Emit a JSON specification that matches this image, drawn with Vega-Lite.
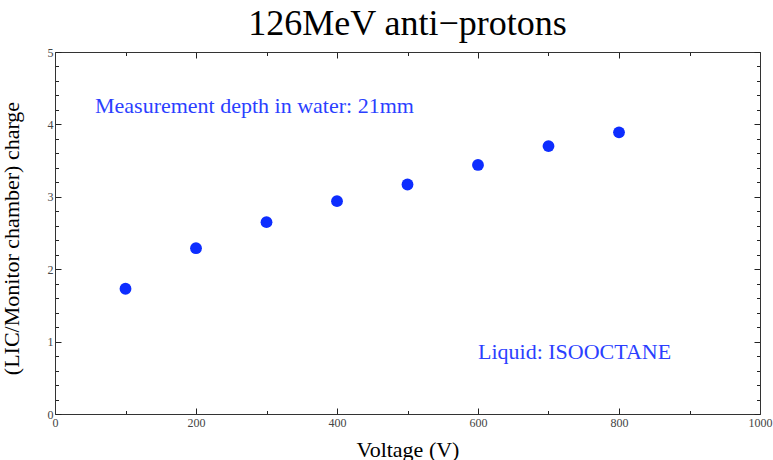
{
  "$schema": "https://vega.github.io/schema/vega-lite/v6.json",
  "width": 705,
  "height": 362,
  "autosize": {"type": "none"},
  "padding": {"left": 55, "top": 52, "right": 13, "bottom": 46},
  "background": "white",
  "title": {
    "text": "126MeV anti−protons",
    "font": "Liberation Serif",
    "fontSize": 36,
    "fontWeight": "normal",
    "color": "#000000",
    "anchor": "middle",
    "baseline": "bottom",
    "offset": 8,
    "dy": 41
  },
  "config": {
    "view": {"stroke": null},
    "axis": {
      "grid": false,
      "domainColor": "#333333",
      "domainWidth": 1,
      "tickColor": "#222222",
      "tickWidth": 1,
      "labelFont": "Liberation Serif",
      "labelFontSize": 12,
      "labelColor": "#444444",
      "labelOverlap": false,
      "labelFlush": false,
      "titleFont": "Liberation Serif",
      "titleFontSize": 22,
      "titleFontWeight": "normal",
      "titleColor": "#000000"
    }
  },
  "layer": [
    {
      "data": {
        "values": [
          {"voltage": 100, "charge": 1.73},
          {"voltage": 200, "charge": 2.29},
          {"voltage": 300, "charge": 2.65},
          {"voltage": 400, "charge": 2.94},
          {"voltage": 500, "charge": 3.17},
          {"voltage": 600, "charge": 3.44},
          {"voltage": 700, "charge": 3.70},
          {"voltage": 800, "charge": 3.89}
        ]
      },
      "mark": {"type": "point", "filled": true, "shape": "circle", "size": 140, "color": "#0d2dff", "opacity": 1},
      "encoding": {
        "x": {
          "field": "voltage",
          "type": "quantitative",
          "scale": {"domain": [0, 1000], "nice": false, "zero": false},
          "axis": {
            "orient": "bottom",
            "title": "Voltage (V)",
            "values": [0, 100, 200, 300, 400, 500, 600, 700, 800, 900, 1000],
            "format": "d",
            "tickSize": {"condition": {"test": "datum.value % 200 === 0", "value": -6}, "value": -3.5},
            "labelExpr": "datum.value % 200 === 0 ? datum.label : ''",
            "labelPadding": 9,
            "titleY": 42,
            "titleBaseline": "alphabetic"
          }
        },
        "y": {
          "field": "charge",
          "type": "quantitative",
          "scale": {"domain": [0, 5], "nice": false, "zero": false},
          "axis": {
            "orient": "left",
            "title": "(LIC/Monitor chamber) charge",
            "values": [0, 0.2, 0.4, 0.6, 0.8, 1, 1.2, 1.4, 1.6, 1.8, 2, 2.2, 2.4, 2.6, 2.8, 3, 3.2, 3.4, 3.6, 3.8, 4, 4.2, 4.4, 4.6, 4.8, 5],
            "format": ".0f",
            "tickSize": {"condition": {"test": "abs(datum.value - round(datum.value)) < 0.001", "value": -6}, "value": -3.5},
            "labelExpr": "abs(datum.value - round(datum.value)) < 0.001 ? datum.label : ''",
            "labelPadding": 8,
            "titleFontSize": 22,
            "titleX": -37,
            "titleY": 186,
            "titleAngle": -90,
            "titleAlign": "center",
            "titleBaseline": "alphabetic"
          }
        }
      }
    },
    {
      "data": {
        "values": [
          {"x": 56.7, "y": 4.153, "label": "Measurement depth in water: 21mm"},
          {"x": 600, "y": 0.766, "label": "Liquid: ISOOCTANE"}
        ]
      },
      "mark": {"type": "text", "align": "left", "baseline": "alphabetic", "font": "Liberation Serif", "fontSize": 22, "color": "#2b3fff"},
      "encoding": {
        "x": {
          "field": "x",
          "type": "quantitative",
          "scale": {"domain": [0, 1000], "nice": false, "zero": false},
          "axis": {
            "orient": "top",
            "title": null,
            "labels": false,
            "values": [0, 100, 200, 300, 400, 500, 600, 700, 800, 900, 1000],
            "tickSize": {"condition": {"test": "datum.value % 200 === 0", "value": -6}, "value": -3.5}
          }
        },
        "y": {
          "field": "y",
          "type": "quantitative",
          "scale": {"domain": [0, 5], "nice": false, "zero": false},
          "axis": {
            "orient": "right",
            "title": null,
            "labels": false,
            "values": [0, 0.2, 0.4, 0.6, 0.8, 1, 1.2, 1.4, 1.6, 1.8, 2, 2.2, 2.4, 2.6, 2.8, 3, 3.2, 3.4, 3.6, 3.8, 4, 4.2, 4.4, 4.6, 4.8, 5],
            "tickSize": {"condition": {"test": "abs(datum.value - round(datum.value)) < 0.001", "value": -6}, "value": -3.5}
          }
        },
        "text": {"field": "label", "type": "nominal"}
      }
    }
  ],
  "resolve": {"axis": {"x": "independent", "y": "independent"}}
}
